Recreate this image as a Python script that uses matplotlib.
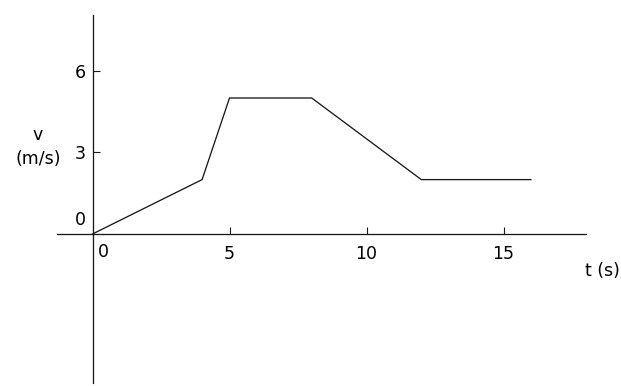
import matplotlib
matplotlib.use("Agg")
import matplotlib.pyplot as plt

# velocity-time data
t_values = [0, 4, 5, 8, 12, 16]
v_values = [0, 2, 5, 5, 2, 2]

x_ticks = [5, 10, 15]
y_ticks = [3, 6]

PX_PER_T = 27.4
PX_PER_V = 27.2

plt.rcParams["font.family"] = ["DejaVu Sans"]


def main() -> None:
    fig = plt.figure(figsize=(6.21, 3.86), dpi=100, facecolor="white")
    ax = fig.add_axes([0, 0, 1, 1])

    ax.set_xlim(-92.5 / PX_PER_T, (621 - 92.5) / PX_PER_T)
    ax.set_ylim((234 - 386) / PX_PER_V, 234 / PX_PER_V)

    ax.plot(t_values, v_values, color="#1a1a1a", lw=0.95, solid_joinstyle="miter")

    for side in ("top", "right"):
        ax.spines[side].set_visible(False)
    ax.spines["left"].set_position(("data", 0))
    ax.spines["bottom"].set_position(("data", 0))
    ax.spines["left"].set_bounds((234 - 383) / PX_PER_V, (234 - 15) / PX_PER_V)
    ax.spines["bottom"].set_bounds((57 - 92.5) / PX_PER_T, (586 - 92.5) / PX_PER_T)
    for side in ("left", "bottom"):
        ax.spines[side].set_linewidth(0.95)
        ax.spines[side].set_color("#1a1a1a")

    ax.set_xticks(x_ticks)
    ax.set_yticks(y_ticks)
    ax.tick_params(axis="both", direction="in", length=5, width=0.8,
                   color="#1a1a1a", labelsize=12.5)
    ax.tick_params(axis="x", pad=8)
    ax.tick_params(axis="y", pad=5)

    ax.text(-0.46, 0.51, "0", ha="center", va="center", fontsize=12.5)
    ax.text(0.38, -0.66, "0", ha="center", va="center", fontsize=12.5)

    ax.text(-1.99, 3.2, "v\n(m/s)", ha="center", va="center",
            fontsize=12.5, linespacing=1.45)
    ax.text(17.97, -1.36, "t (s)", ha="left", va="center", fontsize=12.5)

    fig.savefig("out.png", dpi=100, facecolor="white")
    plt.close(fig)


if __name__ == "__main__":
    main()
